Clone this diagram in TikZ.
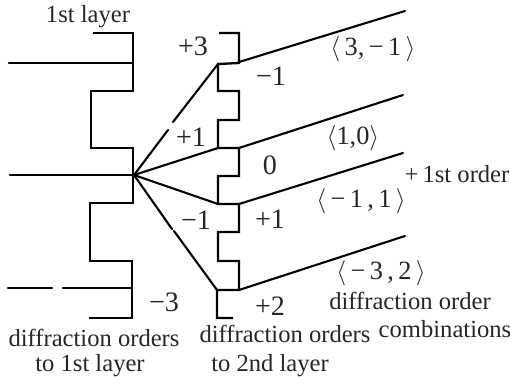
\documentclass[tikz,border=0pt]{standalone}
\usepackage{fontspec}
\setmainfont{Liberation Serif}
\usepackage{tikz}
\usetikzlibrary{calc}

\begin{document}
\begin{tikzpicture}[
    x=0.02cm, y=-0.02cm,
    every node/.style={inner sep=0pt, text=black!85},
    caption/.style={font=\fontsize{14}{16}\selectfont},
    order/.style={font=\fontsize{16}{18}\selectfont},
    combo/.style={font=\fontsize{15}{17}\selectfont},
    layer/.style={line width=1.3pt, line join=miter},
    ray/.style={line width=1.2pt, line cap=round}
]
\useasboundingbox (0,0) rectangle (510,376);

% --- Points where the rays meet ---
\coordinate (focus) at (134,175);
\coordinate (hitA) at (218,64);
\coordinate (hitB) at (218,148);
\coordinate (hitC) at (218,204);
\coordinate (hitD) at (217,290);
\coordinate (gapA) at (173,122);
\coordinate (gapAend) at (168,130);
\coordinate (gapD) at (172,229);
\coordinate (gapDend) at (174,231);

% --- 1st layer profile ---
\draw[layer] (93,33) -- (133,33) -- (133,91) -- (91,91) -- (91,148) -- (133,148) -- (133,203)
    -- (90,203) -- (90,261) -- (132,261) -- (132,318) -- (89,318);

% --- 2nd layer profile ---
\draw[layer] (219,33) -- (239,33) -- (239,63) -- (hitA) -- (218,91) -- (239,91) -- (239,120)
    -- (218,120) -- (hitB) -- (239,148) -- (239,176) -- (218,176) -- (hitC) -- (239,204)
    -- (239,232) -- (218,232) -- (218,261) -- (239,261) -- (239,290) -- (hitD) -- (217,318) -- (233,318);

% --- Incoming beams ---
\coordinate (inA) at (9,63);
\coordinate (inB) at (10,175);
\coordinate (inC) at (8,288);
\coordinate (inCgap) at (52,288);
\coordinate (inCrest) at (63,288);
\draw[ray] (inA) -- (133,63);
\draw[ray] (inB) -- (focus);
\draw[ray] (inC) -- (inCgap);
\draw[ray] (inCrest) -- (132,288);

% --- Rays from the focus to the 2nd layer ---
\draw[ray] (focus) -- (gapAend);
\draw[ray] (gapA) -- (hitA);
\draw[ray] (focus) -- (hitB);
\draw[ray] (focus) -- (hitC);
\draw[ray] (focus) -- (gapD);
\draw[ray] (gapDend) -- (hitD);

% --- Outgoing beams ---
\coordinate (outA) at (405,11);
\coordinate (outB) at (403,95);
\coordinate (outC) at (403,153);
\coordinate (outD) at (405,236);
\draw[ray] (239,62) -- (outA);
\draw[ray] (239,148) -- (outB);
\draw[ray] (239,204) -- (outC);
\draw[ray] (239,290) -- (outD);

% --- Orders at each layer ---
\node[caption] (first) at (88,17) {1st layer};
\node[order] (plusthree) at (193,46) {+3};
\node[order] (plusone) at (191,137) {+1};
\node[order] (minusone) at (196,220) {−1};
\node[order] (minusthree) at (164,302) {−3};
\node[order] (secA) at (271,76) {−1};
\node[order] (secB) at (270,165) {0};
\node[order] (secC) at (270,219) {+1};
\node[order] (secD) at (270,306) {+2};

% --- Order combinations ---
\node[combo] (comboA) at (373,49) {$\langle$\,3,\,−\,1\,$\rangle$};
\node[combo] (comboB) at (353,138) {$\langle$1,0$\rangle$};
\node[combo] (comboC) at (361,201) {$\langle$\,−\,1\,,\,1\,$\rangle$};
\node[combo] (comboD) at (381,273) {$\langle$\,−\,3\,,\,2\,$\rangle$};
\node[caption] (firstorder) at (457,174) {+\,1st order};

% --- Captions ---
\node[caption] (orderA) at (94,338) {diffraction orders};
\node[caption] (orderAb) at (90,366) {to 1st layer};
\node[caption] (orderB) at (285,334) {diffraction orders};
\node[caption] (orderBb) at (270,366) {to 2nd layer};
\node[caption] (combos) at (410,301) {diffraction order};
\node[caption] (combosb) at (445,329) {combinations};

\end{tikzpicture}
\end{document}
